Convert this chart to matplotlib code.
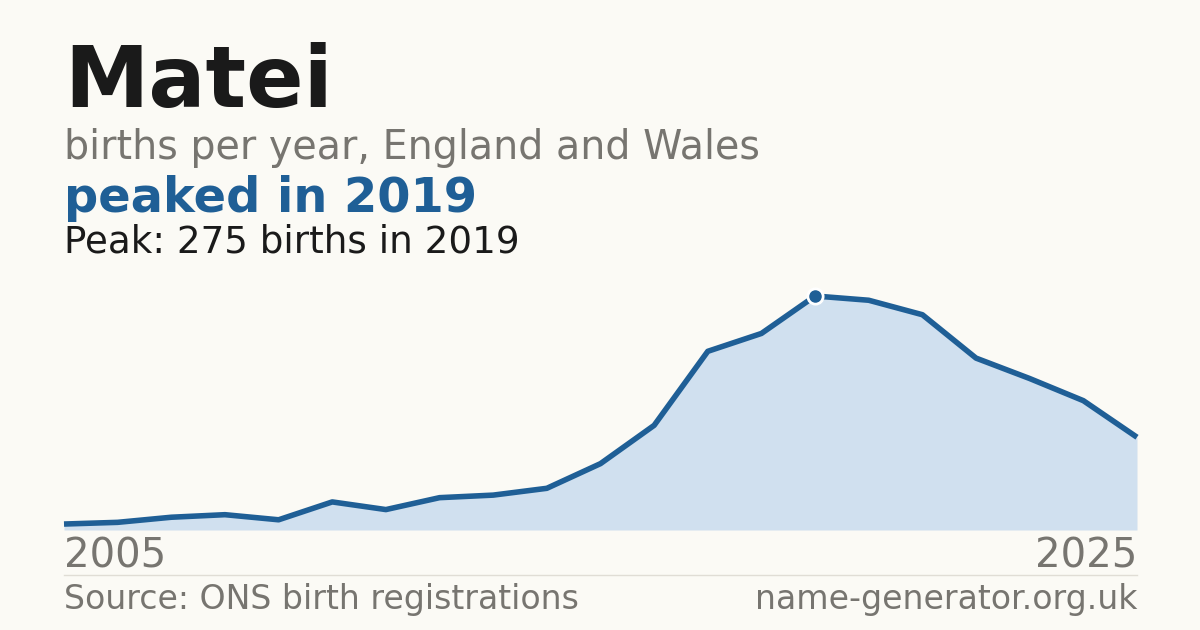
import matplotlib
matplotlib.use("Agg")
import matplotlib.pyplot as plt
plt.rcParams['font.family'] = ['DejaVu Sans']

years = list(range(2005, 2026))
births = [7, 9, 15, 18, 12, 33, 24, 38, 41, 49, 78, 123, 210, 231, 275, 270, 253, 202, 178, 152, 109]
title = "Matei"
subtitle = "births per year, England and Wales"
headline = "peaked in 2019"
peak_text = "Peak: 275 births in 2019"

bg = "#fbfaf5"
blue = "#1f5f96"
fig = plt.figure(figsize=(12, 6.3), dpi=100, facecolor=bg)
ax = fig.add_axes([64/1200, 1-530/630, (1137-64)/1200, (530-296)/630])
ax.set_facecolor(bg)
ax.fill_between(years, births, 0, color="#d0e0ef", lw=0)
ax.plot(years, births, color=blue, lw=4, solid_capstyle="butt", clip_on=False)
pi = births.index(max(births))
ax.plot(years[pi], births[pi], "o", ms=12, color="white", clip_on=False, zorder=5)
ax.plot(years[pi], births[pi], "o", ms=8, color=blue, clip_on=False, zorder=6)
ax.set_xlim(2005, 2025)
ax.set_ylim(0, 275)
ax.axis("off")

fig.text(64/1200, 1-83/630, title, fontsize=61, weight="bold", color="#1a1a1a", va="center")
fig.text(64/1200, 1-148/630, subtitle, fontsize=28.5, color="#777570", va="center")
fig.text(64/1200, 1-199/630, headline, fontsize=34.5, weight="bold", color=blue, va="center")
fig.text(64/1200, 1-242/630, peak_text, fontsize=26.8, color="#1a1a1a", va="center")
fig.text(64/1200, 1-556/630, "2005", fontsize=29, color="#777570", va="center")
fig.text(1137/1200, 1-556/630, "2025", fontsize=29, color="#777570", va="center", ha="right")
fig.add_artist(plt.Line2D([64/1200, 1137/1200], [1-575/630]*2, color="#e0ddd5", lw=1))
fig.text(64/1200, 1-600/630, "Source: ONS birth registrations", fontsize=23.9, color="#777570", va="center")
fig.text(1137/1200, 1-600/630, "name-generator.org.uk", fontsize=23.9, color="#777570", va="center", ha="right")
fig.savefig("out.png", facecolor=bg)
